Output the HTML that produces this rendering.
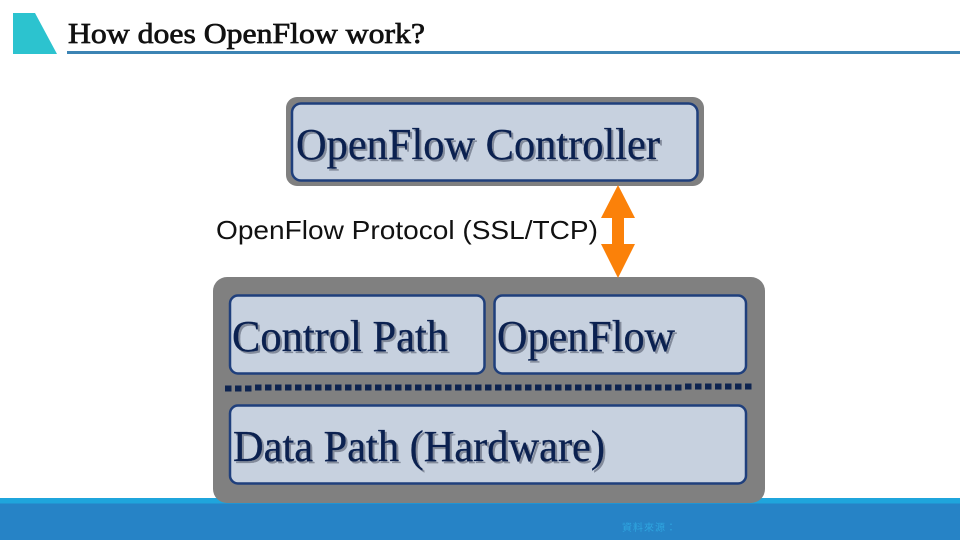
<!DOCTYPE html>
<html><head><meta charset="utf-8">
<style>
html,body{margin:0;padding:0;background:#fff}
svg{display:block}
.s{font-family:"Liberation Serif",serif}
.f{fill:#0b2150;stroke:#0b2150;stroke-width:.3px}
.h{fill:#838b9b;stroke:#838b9b;stroke-width:.3px}
</style></head>
<body>
<svg width="960" height="540" viewBox="0 0 960 540" xmlns="http://www.w3.org/2000/svg">
<rect width="960" height="540" fill="#fff"/>
<polygon points="13,13 35,13 57,54 13,54" fill="#2cc3cf"/>
<text class="s" x="68" y="43" font-size="28" fill="#111" stroke="#111" stroke-width=".7" textLength="357" lengthAdjust="spacingAndGlyphs">How does OpenFlow work?</text>
<rect x="67" y="51" width="893" height="3" fill="#3c84b4"/>

<rect x="0" y="498" width="960" height="6" fill="#1fa5dc"/>
<rect x="0" y="503.500" width="960" height="36.500" fill="#2683c6"/>
<text x="622" y="531" font-size="10" fill="#2fa6e0" font-family="'Liberation Sans','Noto Sans CJK TC',sans-serif" textLength="54">資料來源：</text>

<rect x="286" y="97" width="418" height="89" rx="11" fill="#808080"/>
<rect x="292" y="103.500" width="405.500" height="77" rx="9" fill="#c7d1df" stroke="#1f3f7c" stroke-width="2.500"/>
<text class="s h" x="298" y="161" font-size="44" textLength="364" lengthAdjust="spacingAndGlyphs">OpenFlow Controller</text>
<text class="s f" x="296" y="159" font-size="44" textLength="364" lengthAdjust="spacingAndGlyphs">OpenFlow Controller</text>

<text x="216" y="239" font-size="26" fill="#111" font-family="'Liberation Sans',sans-serif" textLength="382" lengthAdjust="spacingAndGlyphs">OpenFlow Protocol (SSL/TCP)</text>

<rect x="213" y="277" width="552" height="226" rx="14" fill="#808080"/>
<polygon points="618,185 635,218 624,218 624,244 635,244 618,278 601,244 612,244 612,218 601,218" fill="#fb8109"/>

<rect x="230" y="295.500" width="254.500" height="78" rx="8" fill="#c7d1df" stroke="#1f3f7c" stroke-width="2.500"/>
<rect x="494.500" y="295.500" width="251.500" height="78" rx="8" fill="#c7d1df" stroke="#1f3f7c" stroke-width="2.500"/>
<rect x="230" y="405.500" width="516" height="78" rx="8" fill="#c7d1df" stroke="#1f3f7c" stroke-width="2.500"/>

<g stroke="#0e2450" stroke-width="6" stroke-dasharray="6.500,3.500">
<line x1="225" y1="388.500" x2="255" y2="388.500"/>
<line x1="255" y1="387.500" x2="685" y2="387.500"/>
<line x1="685" y1="386.500" x2="752" y2="386.500"/>
</g>

<text class="s h" x="234" y="353" font-size="44" textLength="216" lengthAdjust="spacingAndGlyphs">Control Path</text>
<text class="s f" x="232" y="351" font-size="44" textLength="216" lengthAdjust="spacingAndGlyphs">Control Path</text>
<text class="s h" x="499" y="353" font-size="44" textLength="178" lengthAdjust="spacingAndGlyphs">OpenFlow</text>
<text class="s f" x="497" y="351" font-size="44" textLength="178" lengthAdjust="spacingAndGlyphs">OpenFlow</text>
<text class="s h" x="235" y="463" font-size="44" textLength="372" lengthAdjust="spacingAndGlyphs">Data Path (Hardware)</text>
<text class="s f" x="233" y="461" font-size="44" textLength="372" lengthAdjust="spacingAndGlyphs">Data Path (Hardware)</text>
</svg>
</body></html>
